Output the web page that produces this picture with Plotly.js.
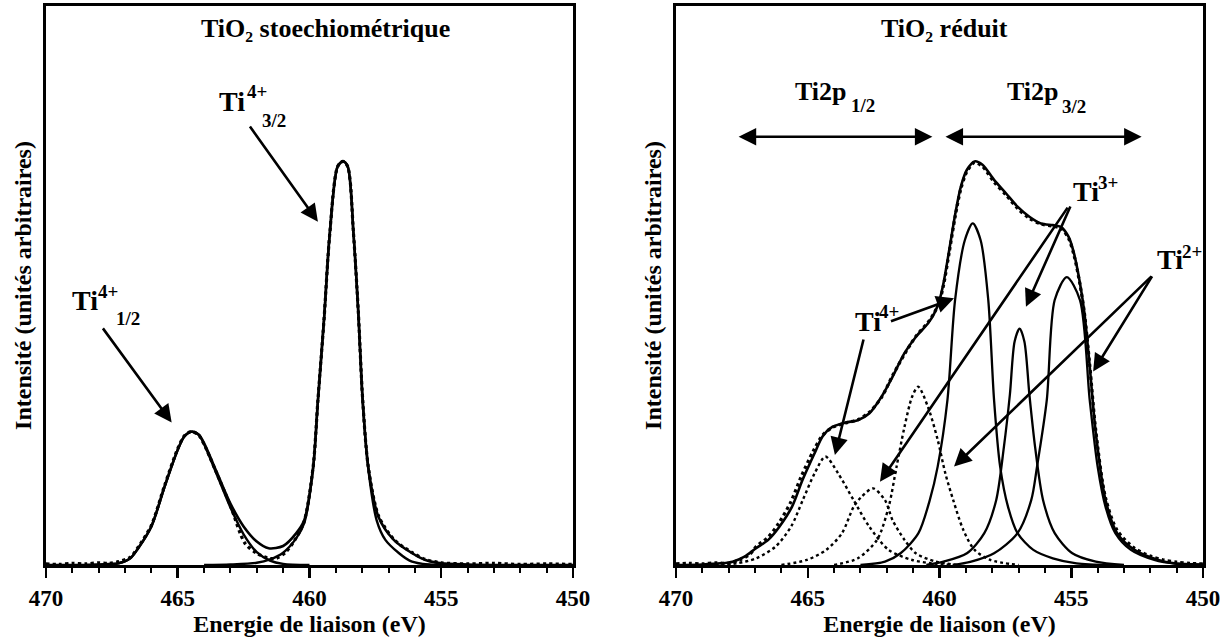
<!DOCTYPE html>
<html>
<head>
<meta charset="utf-8">
<script src="https://cdn.plot.ly/plotly-3.0.1.min.js"></script>
<style>html,body{margin:0;padding:0;background:#fff;}#chart{width:1232px;height:639px;}</style>
</head>
<body>
<div id="chart"></div>
<script>
// ---------- Left panel: TiO2 stoechiométrique ----------
const L_fit_x = [470, 469, 468, 467.6, 467.25, 466.8, 466.5, 466.0, 465.5, 465.0, 464.75, 464.48, 464.2, 464.0, 463.5, 463.0, 462.5, 462.0, 461.55, 461.0, 460.5, 460.2, 459.86, 459.68, 459.45, 459.23, 458.93, 458.73, 458.55, 458.33, 458.15, 457.98, 457.77, 457.38, 456.8, 456.1, 455.6, 455.0, 454.0, 452.0, 450.0];
const L_fit_y = [0, 0, 0.05, 0.15, 0.3, 1.2, 3.0, 6.9, 14.0, 20.6, 23.0, 23.85, 23.3, 21.8, 16.4, 11.0, 6.9, 4.2, 3.0, 3.4, 5.7, 8.0, 17.6, 29.5, 43.8, 59.3, 71.3, 72.2, 71.3, 59.3, 45.5, 29.5, 17.6, 8.6, 4.5, 2.1, 0.9, 0.3, 0.1, 0, 0];

const L_c12_x = [468.5, 467.6, 467.25, 466.8, 466.5, 466.0, 465.5, 465.0, 464.75, 464.48, 464.2, 464.0, 463.5, 463.0, 462.5, 462.0, 461.5, 461.0, 460.0];
const L_c12_y = [0, 0.15, 0.3, 1.2, 3.0, 6.9, 14.0, 20.6, 23.0, 23.85, 23.3, 21.6, 16.0, 10.3, 5.5, 2.3, 0.8, 0.2, 0];

const L_c32_x = [464, 463, 462, 461.5, 461.0, 460.5, 460.2, 459.86, 459.68, 459.45, 459.23, 458.93, 458.73, 458.55, 458.33, 458.15, 457.98, 457.75, 457.45, 457.12, 456.6, 456.2, 455.7, 455.0, 454];
const L_c32_y = [0, 0.1, 0.4, 1.0, 2.2, 4.8, 7.5, 17.3, 29.3, 43.8, 59.3, 71.3, 72.2, 71.3, 59.3, 45.3, 29.0, 16.5, 8.0, 4.5, 2.1, 0.8, 0.2, 0, 0];

const L_dat_x = [470, 469.5, 469, 468.5, 468, 467.6, 467.25, 466.8, 466.5, 466.0, 465.5, 465.0, 464.75, 464.48, 464.2, 464.0, 463.5, 463.0, 462.45, 462.0, 461.55, 461.25, 460.9, 460.5, 460.2, 459.86, 459.68, 459.45, 459.23, 458.93, 458.73, 458.55, 458.33, 458.15, 457.98, 457.77, 457.38, 456.8, 456.1, 455.6, 455.0, 454.0, 453.0, 452.0, 451.0, 450.0];
const L_dat_y = [0.2, 0.1, 0.3, 0.2, 0.4, 0.3, 0.6, 1.4, 3.2, 7.1, 14.2, 20.8, 23.1, 23.9, 23.2, 21.6, 16.2, 10.6, 3.9, 2.1, 1.2, 1.2, 2.3, 4.9, 7.8, 17.6, 29.5, 43.8, 59.3, 71.3, 72.2, 71.3, 59.3, 45.5, 29.5, 17.6, 8.8, 4.6, 2.2, 1.0, 0.4, 0.2, 0.3, 0.1, 0.2, 0.1];

// ---------- Right panel: TiO2 réduit ----------
const R_fit_x = [470, 469, 468.3, 467.85, 467.4, 466.96, 466.5, 466.07, 465.6, 465.2, 464.74, 464.44, 464.07, 463.56, 463.1, 462.67, 462.2, 461.78, 461.33, 460.9, 460.44, 460.2, 460.0, 459.85, 459.63, 459.4, 459.19, 458.96, 458.67, 458.37, 457.93, 457.48, 457.04, 456.59, 456.15, 455.7, 455.4, 455.1, 454.9, 454.67, 454.5, 454.3, 454.07, 453.7, 453.26, 452.6, 451.7, 451.1, 450];
const R_fit_y = [0, 0.1, 0.3, 0.6, 1.5, 3.0, 4.5, 6.9, 10.4, 15.2, 20.0, 23.0, 24.7, 25.5, 25.9, 27.1, 30.1, 33.7, 37.9, 40.8, 43.2, 45.0, 47.4, 50.4, 56.4, 62.9, 67.7, 70.7, 72.2, 71.6, 68.9, 66.5, 64.1, 62.3, 61.1, 60.8, 60.5, 58.7, 55.8, 50.4, 45.0, 35.5, 23.6, 11.6, 5.7, 2.7, 0.9, 0.3, 0.1];

const R_dat_x = [470, 469.5, 469, 468.5, 468, 467.6, 467.2, 466.96, 466.5, 466.1, 465.65, 465.25, 464.8, 464.44, 464.07, 463.56, 463.1, 462.67, 462.2, 461.78, 461.33, 460.9, 460.44, 460.2, 460.0, 459.85, 459.63, 459.4, 459.19, 458.96, 458.67, 458.37, 457.93, 457.48, 457.04, 456.59, 456.15, 455.7, 455.4, 455.1, 454.9, 454.67, 454.5, 454.3, 454.07, 453.7, 453.26, 452.6, 452.0, 451.5, 451.0, 450.5, 450];
const R_dat_y = [0.2, 0.3, 0.2, 0.4, 0.3, 0.9, 1.9, 3.3, 5.0, 7.5, 11.2, 15.8, 20.3, 23.2, 24.6, 25.4, 26.0, 27.3, 30.0, 33.9, 37.7, 40.9, 43.4, 45.1, 47.2, 50.0, 56.0, 62.5, 67.3, 70.4, 72.0, 71.3, 68.5, 66.2, 63.8, 62.0, 61.0, 60.6, 60.3, 58.4, 55.5, 50.2, 45.0, 35.8, 24.0, 12.0, 6.2, 3.0, 1.6, 0.9, 0.5, 0.3, 0.2];

// components (Ti2p 3/2, solid)
const R_t4_x = [463, 462.07, 461.48, 460.8, 460.37, 460.07, 459.7, 459.41, 459.04, 458.74, 458.44, 458.15, 457.93, 457.7, 457.4, 457.04, 456.44, 455.7, 454.8, 453.5];
const R_t4_y = [0, 0.6, 2.1, 5.7, 11.6, 17.6, 29.5, 47.4, 58.1, 61.1, 58.1, 47.4, 29.5, 17.6, 10.4, 5.7, 2.7, 1.2, 0.3, 0];
const R_t3_x = [460.5, 459.85, 458.96, 458.3, 457.85, 457.56, 457.33, 457.15, 456.96, 456.78, 456.59, 456.37, 456.07, 455.63, 454.96, 454.07, 453];
const R_t3_y = [0, 0.6, 2.1, 5.7, 11.6, 21.0, 30.5, 40.0, 42.3, 40.0, 30.5, 21.0, 11.6, 5.7, 2.1, 0.6, 0];
const R_t2_x = [459.5, 458.8, 457.93, 457.04, 456.52, 456.3, 455.93, 455.63, 455.17, 454.67, 454.3, 454.0, 453.7, 453.33, 452.74, 451.85, 451, 450];
const R_t2_y = [0, 0.6, 2.1, 5.7, 11.6, 17.6, 29.5, 47.4, 51.5, 47.4, 29.5, 17.6, 10.4, 5.7, 2.7, 0.9, 0.2, 0];

// components (Ti2p 1/2, dotted)
const R_d4_x = [468.5, 467.7, 466.96, 466.22, 465.63, 465.19, 464.74, 464.33, 463.85, 463.26, 462.67, 461.93, 461.04, 460.3, 459.5];
const R_d4_y = [0, 0.3, 1.2, 3.3, 6.9, 11.6, 16.4, 19.4, 16.4, 11.6, 6.9, 2.7, 0.9, 0.3, 0];
const R_d3_x = [466, 465.04, 464.3, 463.7, 463.26, 462.96, 462.52, 462.07, 461.78, 461.33, 460.9, 460.15, 459.3];
const R_d3_y = [0, 0.9, 2.7, 5.7, 10.4, 12.2, 13.7, 11.6, 8.0, 4.5, 2.1, 0.6, 0];
const R_d2_x = [464, 463.1, 462.37, 461.93, 461.63, 461.33, 461.04, 460.81, 460.44, 460.07, 459.78, 459.48, 459.1, 458.67, 458.07, 457];
const R_d2_y = [0, 1.2, 4.5, 10.4, 17.6, 24.7, 30.1, 31.9, 28.3, 22.4, 16.4, 11.6, 6.3, 2.7, 0.9, 0];

const xTicks = [470, 465, 460, 455, 450];
const titles = ["TiO\u2082 stoechiométrique", "TiO\u2082 réduit"];
const xTitle = "Energie de liaison (eV)";
const yTitle = "Intensité (unités arbitraires)";

const FONT = "Liberation Serif, Times New Roman, serif";
const BLACK = "#000";
const W = 1232, H = 639;

function tr(x, y, xa, ya, dash, w) {
  return {x: x, y: y, xaxis: xa, yaxis: ya, type: 'scatter', mode: 'lines',
    line: {color: BLACK, width: w, dash: dash, shape: 'spline', smoothing: 0.8},
    hoverinfo: 'skip', showlegend: false};
}

const data = [
  tr(L_dat_x, L_dat_y, 'x', 'y', 'dot', 3.2),
  tr(L_c12_x, L_c12_y, 'x', 'y', 'solid', 2.4),
  tr(L_c32_x, L_c32_y, 'x', 'y', 'solid', 2.4),
  tr(L_fit_x, L_fit_y, 'x', 'y', 'solid', 2.6),
  tr(R_dat_x, R_dat_y, 'x2', 'y2', 'dot', 3.2),
  tr(R_fit_x, R_fit_y, 'x2', 'y2', 'solid', 2.6),
  tr(R_t4_x, R_t4_y, 'x2', 'y2', 'solid', 2.3),
  tr(R_t3_x, R_t3_y, 'x2', 'y2', 'solid', 2.3),
  tr(R_t2_x, R_t2_y, 'x2', 'y2', 'solid', 2.3),
  tr(R_d4_x, R_d4_y, 'x2', 'y2', 'dot', 2.4),
  tr(R_d3_x, R_d3_y, 'x2', 'y2', 'dot', 2.4),
  tr(R_d2_x, R_d2_y, 'x2', 'y2', 'dot', 2.4)
];

function xax(domain, anchor) {
  return {
    domain: domain, anchor: anchor, range: [470, 450], tickvals: xTicks,
    ticks: 'outside', ticklen: 10, tickwidth: 2.5, tickcolor: BLACK,
    minor: {dtick: 1, ticks: 'outside', ticklen: 5, tickwidth: 2, tickcolor: BLACK, showgrid: false},
    showline: true, mirror: true, linewidth: 3, linecolor: BLACK,
    showgrid: false, zeroline: false,
    tickfont: {family: FONT, size: 23, color: BLACK, weight: 'bold'},
    title: {text: xTitle, font: {family: FONT, size: 24, color: BLACK, weight: 'bold'}, standoff: 0}
  };
}
function yax(anchor) {
  return {
    domain: [0.1158, 0.9906], anchor: anchor, range: [0, 100],
    showticklabels: false, ticks: '', showline: true, mirror: true, linewidth: 3, linecolor: BLACK,
    showgrid: false, zeroline: false,
    title: {text: yTitle, font: {family: FONT, size: 24, color: BLACK, weight: 'bold'}, standoff: 5}
  };
}

// text piece placed by its left edge and the middle of its capitals, in page pixels
function piece(text, px, py, size) {
  return {text: text, x: px / W, y: 1 - py / H, xref: 'paper', yref: 'paper',
    xanchor: 'left', yanchor: 'middle', showarrow: false, borderpad: 0,
    font: {family: FONT, size: size, color: BLACK, weight: 'bold'}};
}
function arr(hx, hy, tx, ty, xr, yr, two) {
  const a = {text: '', x: hx, y: hy, ax: tx, ay: ty, xref: xr, yref: yr, axref: xr, ayref: yr,
    showarrow: true, arrowhead: 2, arrowsize: 1.35, arrowwidth: 2.6, arrowcolor: BLACK,
    font: {family: FONT, size: 12, color: BLACK}};
  if (two) { a.arrowside = 'end+start'; a.startarrowhead = 2; a.startarrowsize = 1.35; }
  return a;
}

const MAIN = 28, SMALL = 19, TI2P = 26;
const annotations = [
  piece(titles[0], 200, 29, 26),
  piece(titles[1], 880, 29, 26),
  // left panel labels
  piece("Ti", 218, 101, MAIN), piece("4+", 246, 92, SMALL), piece("3/2", 261, 120, SMALL),
  arr(459.68, 61.4, 462.3, 78.7, 'x', 'y'),
  piece("Ti", 71, 300, MAIN), piece("4+", 97, 292, SMALL), piece("1/2", 115, 318, SMALL),
  arr(465.23, 25.5, 467.88, 42.6, 'x', 'y'),
  // right panel labels
  piece("Ti2p", 794, 92, TI2P), piece("1/2", 850, 106, SMALL),
  piece("Ti2p", 1006, 92, TI2P), piece("3/2", 1061, 107, SMALL),
  arr(460.27, 76.6, 467.68, 76.6, 'x2', 'y2', true),
  arr(452.33, 76.6, 459.83, 76.6, 'x2', 'y2', true),
  piece("Ti", 1072, 191, MAIN), piece("3+", 1097, 182, SMALL),
  arr(456.72, 46.2, 455.01, 64.4, 'x2', 'y2'),
  arr(462.26, 14.9, 455.1, 64.2, 'x2', 'y2'),
  piece("Ti", 1156, 259, MAIN), piece("2+", 1181, 251, SMALL),
  arr(454.17, 34.6, 451.9, 51.9, 'x2', 'y2'),
  arr(459.45, 17.6, 451.9, 51.9, 'x2', 'y2'),
  piece("Ti", 854, 321, MAIN), piece("4+", 878, 312, SMALL),
  arr(459.45, 47.7, 461.9, 43.5, 'x2', 'y2'),
  arr(463.97, 19.7, 462.87, 40.6, 'x2', 'y2')
];

const layout = {
  width: W, height: H,
  margin: {l: 0, r: 0, t: 0, b: 0},
  paper_bgcolor: '#fff', plot_bgcolor: '#fff',
  font: {family: FONT, size: 16, color: BLACK, weight: 'bold'},
  showlegend: false,
  xaxis: xax([0.0373, 0.4651], 'y'),
  yaxis: yax('x'),
  xaxis2: xax([0.5487, 0.9765], 'y2'),
  yaxis2: yax('x2'),
  annotations: annotations
};

Plotly.newPlot('chart', data, layout, {displayModeBar: false, staticPlot: true});
</script>
</body>
</html>
